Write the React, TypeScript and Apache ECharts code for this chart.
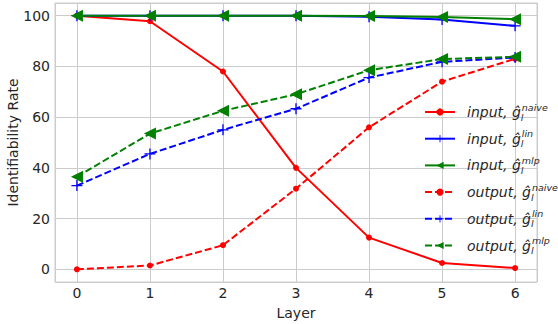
import React, { useEffect, useRef } from "react";
import * as echarts from "echarts";

const layers = [0, 1, 2, 3, 4, 5, 6];
const inputNaive = [100, 97.8, 78, 40, 12.5, 2.5, 0.5];
const inputLin = [100, 100, 100, 100, 99.6, 98.5, 96];
const inputMlp = [100, 100, 100, 100, 99.9, 99.5, 98.6];
const outputNaive = [0, 1.5, 9.5, 31.8, 56, 74, 83];
const outputLin = [33, 45.5, 55, 63.3, 75.6, 81.8, 83.5];
const outputMlp = [36.5, 53.5, 62.5, 69, 78.5, 82.9, 83.8];

const yTicks = [0, 20, 40, 60, 80, 100];

const FONT = "DejaVu Sans";
const TXT = "#262626";

const plus = "path://M-0.12,-1H0.12V-0.12H1V0.12H0.12V1H-0.12V0.12H-1V-0.12H-0.12Z";

const seriesDefs = [
  { key: "in_naive", pre: "input, ", sup: "naive", data: inputNaive, color: "#ff0000", dashed: false, symbol: "circle", size: 6, rot: 0 },
  { key: "in_lin", pre: "input, ", sup: "lin", data: inputLin, color: "#0000ff", dashed: false, symbol: plus, size: 11, rot: 0 },
  { key: "in_mlp", pre: "input, ", sup: "mlp", data: inputMlp, color: "#008000", dashed: false, symbol: "triangle", size: 12, rot: 90 },
  { key: "out_naive", pre: "output, ", sup: "naive", data: outputNaive, color: "#ff0000", dashed: true, symbol: "circle", size: 6, rot: 0 },
  { key: "out_lin", pre: "output, ", sup: "lin", data: outputLin, color: "#0000ff", dashed: true, symbol: plus, size: 11, rot: 0 },
  { key: "out_mlp", pre: "output, ", sup: "mlp", data: outputMlp, color: "#008000", dashed: true, symbol: "triangle", size: 12, rot: 90 },
];

export default function App() {
  const ref = useRef<HTMLDivElement>(null);
  useEffect(() => {
    if (!ref.current) return;
    const chart = echarts.init(ref.current, null, { renderer: "svg" });
    const labelMap: Record<string, string> = {};
    seriesDefs.forEach((s) => {
      labelMap[s.key] = `{a|${s.pre}ĝ}{b|l}{c|${s.sup}}`;
    });
    chart.setOption({
      animation: false,
      backgroundColor: "#ffffff",
      grid: {
        left: 55,
        right: 21,
        top: 3,
        bottom: 42,
        show: true,
        borderColor: "#cccccc",
        borderWidth: 1,
        containLabel: false,
        outerBoundsMode: "none",
      },
      xAxis: {
        type: "value",
        min: -0.3,
        max: 6.3,
        splitNumber: 7,
        name: "Layer",
        nameLocation: "middle",
        nameGap: 24,
        nameMoveOverlap: false,
        nameTextStyle: { fontFamily: FONT, fontSize: 14, color: TXT },
        axisLine: { show: false },
        axisTick: { show: false },
        axisLabel: {
          showMinLabel: false,
          showMaxLabel: false,
          fontFamily: FONT,
          fontSize: 14,
          color: TXT,
          margin: 4,
        },
        splitLine: { show: true, lineStyle: { color: "#cccccc", width: 1 } },
      },
      yAxis: {
        type: "value",
        min: -5,
        max: 105,
        name: "Identifiability Rate",
        nameLocation: "middle",
        nameGap: 35,
        nameMoveOverlap: false,
        nameTextStyle: { fontFamily: FONT, fontSize: 14, color: TXT },
        axisLine: { show: false },
        axisTick: { show: false },
        axisLabel: {
          showMinLabel: false,
          showMaxLabel: false,
          fontFamily: FONT,
          fontSize: 14,
          color: TXT,
          margin: 5,
          formatter: (v: number) => (yTicks.includes(v) ? String(v) : ""),
        },
        splitLine: { show: true, lineStyle: { color: "#cccccc", width: 1 } },
      },
      legend: {
        orient: "vertical",
        left: 419,
        top: 97,
        itemWidth: 30,
        itemHeight: 9,
        itemGap: 6.7,
        data: seriesDefs.map((s) => s.key),
        formatter: (name: string) => labelMap[name],
        textStyle: {
          fontFamily: FONT,
          color: TXT,
          padding: [0, 0, 0, 7],
          rich: {
            a: { fontFamily: FONT, fontSize: 14, fontStyle: "italic", color: TXT, lineHeight: 20 },
            b: { fontFamily: FONT, fontSize: 9.5, fontStyle: "italic", color: TXT, verticalAlign: "bottom", lineHeight: 20, width: 1 },
            c: { fontFamily: FONT, fontSize: 9.5, fontStyle: "italic", color: TXT, verticalAlign: "top", lineHeight: 20 },
          },
        },
      },
      series: seriesDefs.map((s) => ({
        name: s.key,
        type: "line",
        data: layers.map((x, i) => [x, s.data[i]]),
        symbol: s.symbol,
        symbolSize: s.size,
        symbolRotate: s.rot,
        showAllSymbol: true,
        itemStyle: { color: s.color },
        lineStyle: { color: s.color, width: 2, type: s.dashed ? [7, 3] : "solid" },
        z: 2,
      })),
    });
    return () => chart.dispose();
  }, []);
  return <div ref={ref} style={{ width: 558, height: 324, position: "absolute", left: 0, top: 0 }} />;
}
